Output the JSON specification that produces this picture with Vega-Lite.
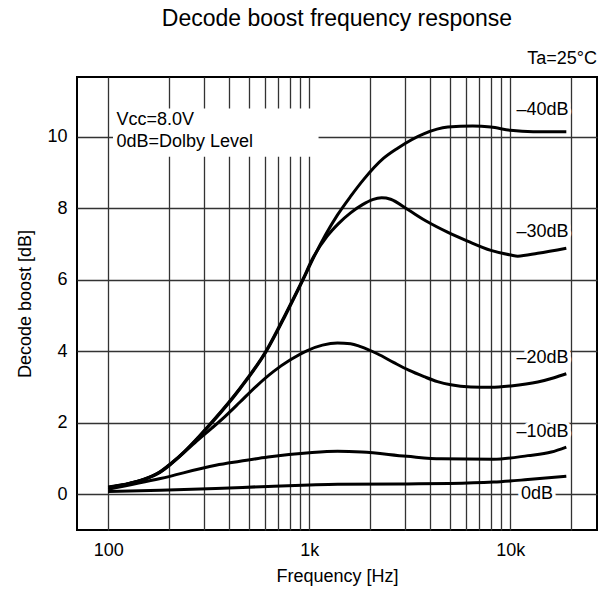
{
  "$schema": "https://vega.github.io/schema/vega-lite/v6.json",
  "width": 520,
  "height": 453,
  "autosize": {"type": "none"},
  "padding": {"left": 77, "top": 77, "right": 3, "bottom": 62},
  "title": {"text": "Decode boost frequency response", "fontSize": 23, "font": "Liberation Sans", "fontWeight": "normal", "color": "#000", "anchor": "middle", "offset": 19, "limit": 0},
  "config": {
    "font": "Liberation Sans",
    "view": {"stroke": "#000", "strokeWidth": 2},
    "axis": {"labelFont": "Liberation Sans", "titleFont": "Liberation Sans", "labelFontSize": 18, "titleFontSize": 18, "titleFontWeight": "normal", "labelColor": "#000", "titleColor": "#000", "gridColor": "#333", "gridWidth": 1.3, "gridOpacity": 1, "ticks": false, "domain": false}
  },
  "datasets": {
    "curves": [
      {"freq": 100, "boost": 0.18, "level": "-40dB"},
      {"freq": 128, "boost": 0.3, "level": "-40dB"},
      {"freq": 152, "boost": 0.42, "level": "-40dB"},
      {"freq": 181, "boost": 0.62, "level": "-40dB"},
      {"freq": 208, "boost": 0.88, "level": "-40dB"},
      {"freq": 241, "boost": 1.2, "level": "-40dB"},
      {"freq": 280, "boost": 1.58, "level": "-40dB"},
      {"freq": 328, "boost": 2.0, "level": "-40dB"},
      {"freq": 453, "boost": 2.95, "level": "-40dB"},
      {"freq": 612, "boost": 4.0, "level": "-40dB"},
      {"freq": 761, "boost": 5.0, "level": "-40dB"},
      {"freq": 932, "boost": 6.0, "level": "-40dB"},
      {"freq": 1037, "boost": 6.55, "level": "-40dB"},
      {"freq": 1204, "boost": 7.25, "level": "-40dB"},
      {"freq": 1378, "boost": 7.8, "level": "-40dB"},
      {"freq": 1606, "boost": 8.33, "level": "-40dB"},
      {"freq": 1863, "boost": 8.8, "level": "-40dB"},
      {"freq": 2345, "boost": 9.4, "level": "-40dB"},
      {"freq": 2754, "boost": 9.68, "level": "-40dB"},
      {"freq": 3712, "boost": 10.08, "level": "-40dB"},
      {"freq": 4890, "boost": 10.27, "level": "-40dB"},
      {"freq": 6500, "boost": 10.3, "level": "-40dB"},
      {"freq": 8000, "boost": 10.27, "level": "-40dB"},
      {"freq": 10000, "boost": 10.18, "level": "-40dB"},
      {"freq": 13000, "boost": 10.14, "level": "-40dB"},
      {"freq": 19000, "boost": 10.14, "level": "-40dB"},
      {"freq": 100, "boost": 0.2, "level": "-30dB"},
      {"freq": 128, "boost": 0.31, "level": "-30dB"},
      {"freq": 152, "boost": 0.43, "level": "-30dB"},
      {"freq": 181, "boost": 0.63, "level": "-30dB"},
      {"freq": 208, "boost": 0.89, "level": "-30dB"},
      {"freq": 241, "boost": 1.21, "level": "-30dB"},
      {"freq": 280, "boost": 1.59, "level": "-30dB"},
      {"freq": 328, "boost": 2.02, "level": "-30dB"},
      {"freq": 453, "boost": 2.97, "level": "-30dB"},
      {"freq": 612, "boost": 4.02, "level": "-30dB"},
      {"freq": 761, "boost": 5.03, "level": "-30dB"},
      {"freq": 932, "boost": 6.02, "level": "-30dB"},
      {"freq": 1037, "boost": 6.58, "level": "-30dB"},
      {"freq": 1229, "boost": 7.22, "level": "-30dB"},
      {"freq": 1398, "boost": 7.57, "level": "-30dB"},
      {"freq": 1606, "boost": 7.87, "level": "-30dB"},
      {"freq": 1842, "boost": 8.1, "level": "-30dB"},
      {"freq": 2066, "boost": 8.24, "level": "-30dB"},
      {"freq": 2292, "boost": 8.29, "level": "-30dB"},
      {"freq": 2541, "boost": 8.25, "level": "-30dB"},
      {"freq": 3078, "boost": 7.97, "level": "-30dB"},
      {"freq": 3873, "boost": 7.62, "level": "-30dB"},
      {"freq": 4873, "boost": 7.33, "level": "-30dB"},
      {"freq": 6130, "boost": 7.08, "level": "-30dB"},
      {"freq": 8010, "boost": 6.82, "level": "-30dB"},
      {"freq": 10080, "boost": 6.69, "level": "-30dB"},
      {"freq": 10890, "boost": 6.66, "level": "-30dB"},
      {"freq": 13700, "boost": 6.74, "level": "-30dB"},
      {"freq": 19000, "boost": 6.88, "level": "-30dB"},
      {"freq": 100, "boost": 0.19, "level": "-20dB"},
      {"freq": 128, "boost": 0.3, "level": "-20dB"},
      {"freq": 152, "boost": 0.42, "level": "-20dB"},
      {"freq": 181, "boost": 0.61, "level": "-20dB"},
      {"freq": 208, "boost": 0.87, "level": "-20dB"},
      {"freq": 241, "boost": 1.19, "level": "-20dB"},
      {"freq": 280, "boost": 1.52, "level": "-20dB"},
      {"freq": 328, "boost": 1.85, "level": "-20dB"},
      {"freq": 382, "boost": 2.18, "level": "-20dB"},
      {"freq": 453, "boost": 2.58, "level": "-20dB"},
      {"freq": 545, "boost": 3.02, "level": "-20dB"},
      {"freq": 663, "boost": 3.43, "level": "-20dB"},
      {"freq": 806, "boost": 3.76, "level": "-20dB"},
      {"freq": 979, "boost": 4.02, "level": "-20dB"},
      {"freq": 1164, "boost": 4.17, "level": "-20dB"},
      {"freq": 1382, "boost": 4.23, "level": "-20dB"},
      {"freq": 1606, "boost": 4.21, "level": "-20dB"},
      {"freq": 1800, "boost": 4.13, "level": "-20dB"},
      {"freq": 2182, "boost": 3.93, "level": "-20dB"},
      {"freq": 2639, "boost": 3.68, "level": "-20dB"},
      {"freq": 3125, "boost": 3.47, "level": "-20dB"},
      {"freq": 3725, "boost": 3.29, "level": "-20dB"},
      {"freq": 4345, "boost": 3.15, "level": "-20dB"},
      {"freq": 5060, "boost": 3.06, "level": "-20dB"},
      {"freq": 6370, "boost": 3.0, "level": "-20dB"},
      {"freq": 8010, "boost": 2.99, "level": "-20dB"},
      {"freq": 10080, "boost": 3.03, "level": "-20dB"},
      {"freq": 13700, "boost": 3.14, "level": "-20dB"},
      {"freq": 16520, "boost": 3.26, "level": "-20dB"},
      {"freq": 19000, "boost": 3.37, "level": "-20dB"},
      {"freq": 100, "boost": 0.14, "level": "-10dB"},
      {"freq": 182, "boost": 0.44, "level": "-10dB"},
      {"freq": 343, "boost": 0.81, "level": "-10dB"},
      {"freq": 453, "boost": 0.92, "level": "-10dB"},
      {"freq": 624, "boost": 1.04, "level": "-10dB"},
      {"freq": 1003, "boost": 1.16, "level": "-10dB"},
      {"freq": 1383, "boost": 1.2, "level": "-10dB"},
      {"freq": 1826, "boost": 1.18, "level": "-10dB"},
      {"freq": 3060, "boost": 1.06, "level": "-10dB"},
      {"freq": 4530, "boost": 0.99, "level": "-10dB"},
      {"freq": 8250, "boost": 0.98, "level": "-10dB"},
      {"freq": 12230, "boost": 1.08, "level": "-10dB"},
      {"freq": 16000, "boost": 1.18, "level": "-10dB"},
      {"freq": 19000, "boost": 1.32, "level": "-10dB"},
      {"freq": 100, "boost": 0.08, "level": "0dB"},
      {"freq": 182, "boost": 0.11, "level": "0dB"},
      {"freq": 343, "boost": 0.16, "level": "0dB"},
      {"freq": 624, "boost": 0.22, "level": "0dB"},
      {"freq": 1003, "boost": 0.26, "level": "0dB"},
      {"freq": 1383, "boost": 0.28, "level": "0dB"},
      {"freq": 3060, "boost": 0.29, "level": "0dB"},
      {"freq": 5000, "boost": 0.3, "level": "0dB"},
      {"freq": 8250, "boost": 0.34, "level": "0dB"},
      {"freq": 12230, "boost": 0.41, "level": "0dB"},
      {"freq": 19000, "boost": 0.5, "level": "0dB"}
    ],
    "labels": [
      {"freq": 14480, "boost": 10.75, "label": "–40dB"},
      {"freq": 14480, "boost": 7.34, "label": "–30dB"},
      {"freq": 14480, "boost": 3.8, "label": "–20dB"},
      {"freq": 14480, "boost": 1.74, "label": "–10dB"},
      {"freq": 13590, "boost": 0.01, "label": "0dB"}
    ],
    "box": [
      {"freq": 105.7, "freq2": 1113, "boost": 9.44, "boost2": 10.79}
    ],
    "notes": [
      {"freq": 110, "boost": 10.47, "label": "Vcc=8.0V"},
      {"freq": 110, "boost": 9.86, "label": "0dB=Dolby Level"}
    ],
    "temp": [
      {"freq": 27000, "boost": 12.18, "label": "Ta=25°C"}
    ]
  },
  "layer": [
    {
      "data": {"name": "curves"},
      "mark": {"type": "line", "interpolate": "monotone", "color": "#000", "strokeWidth": 3},
      "encoding": {
        "x": {"field": "freq", "type": "quantitative",
          "scale": {"type": "log", "domain": [70, 27000], "nice": false},
          "axis": {"values": [100, 200, 300, 400, 500, 600, 700, 800, 900, 1000, 2000, 3000, 4000, 5000, 6000, 7000, 8000, 9000, 10000, 20000],
            "labelExpr": "datum.value == 100 ? '100' : datum.value == 1000 ? '1k' : datum.value == 10000 ? '10k' : ''",
            "labelOverlap": false, "labelFlush": false, "labelPadding": 11, "labelDx": 6, "title": "Frequency [Hz]", "titlePadding": 8}},
        "y": {"field": "boost", "type": "quantitative",
          "scale": {"domain": [-1, 11.67], "nice": false, "zero": false},
          "axis": {"values": [0, 2, 4, 6, 8, 10], "labelPadding": 10, "title": "Decode boost [dB]", "titlePadding": 12}},
        "detail": {"field": "level"}
      }
    },
    {
      "data": {"name": "box"},
      "mark": {"type": "rect", "fill": "#fff", "stroke": null},
      "encoding": {
        "x": {"field": "freq", "type": "quantitative"},
        "x2": {"field": "freq2"},
        "y": {"field": "boost", "type": "quantitative"},
        "y2": {"field": "boost2"}
      }
    },
    {
      "data": {"name": "notes"},
      "mark": {"type": "text", "align": "left", "baseline": "middle", "fontSize": 18, "color": "#000"},
      "encoding": {
        "x": {"field": "freq", "type": "quantitative"},
        "y": {"field": "boost", "type": "quantitative"},
        "text": {"field": "label"}
      }
    },
    {
      "data": {"name": "labels"},
      "mark": {"type": "text", "align": "center", "baseline": "middle", "fontSize": 18, "stroke": "#fff", "strokeWidth": 7, "color": "#fff"},
      "encoding": {
        "x": {"field": "freq", "type": "quantitative"},
        "y": {"field": "boost", "type": "quantitative"},
        "text": {"field": "label"}
      }
    },
    {
      "data": {"name": "labels"},
      "mark": {"type": "text", "align": "center", "baseline": "middle", "fontSize": 18, "color": "#000"},
      "encoding": {
        "x": {"field": "freq", "type": "quantitative"},
        "y": {"field": "boost", "type": "quantitative"},
        "text": {"field": "label"}
      }
    },
    {
      "data": {"name": "temp"},
      "mark": {"type": "text", "align": "right", "baseline": "middle", "fontSize": 18, "color": "#000", "clip": false},
      "encoding": {
        "x": {"field": "freq", "type": "quantitative"},
        "y": {"field": "boost", "type": "quantitative"},
        "text": {"field": "label"}
      }
    }
  ]
}
